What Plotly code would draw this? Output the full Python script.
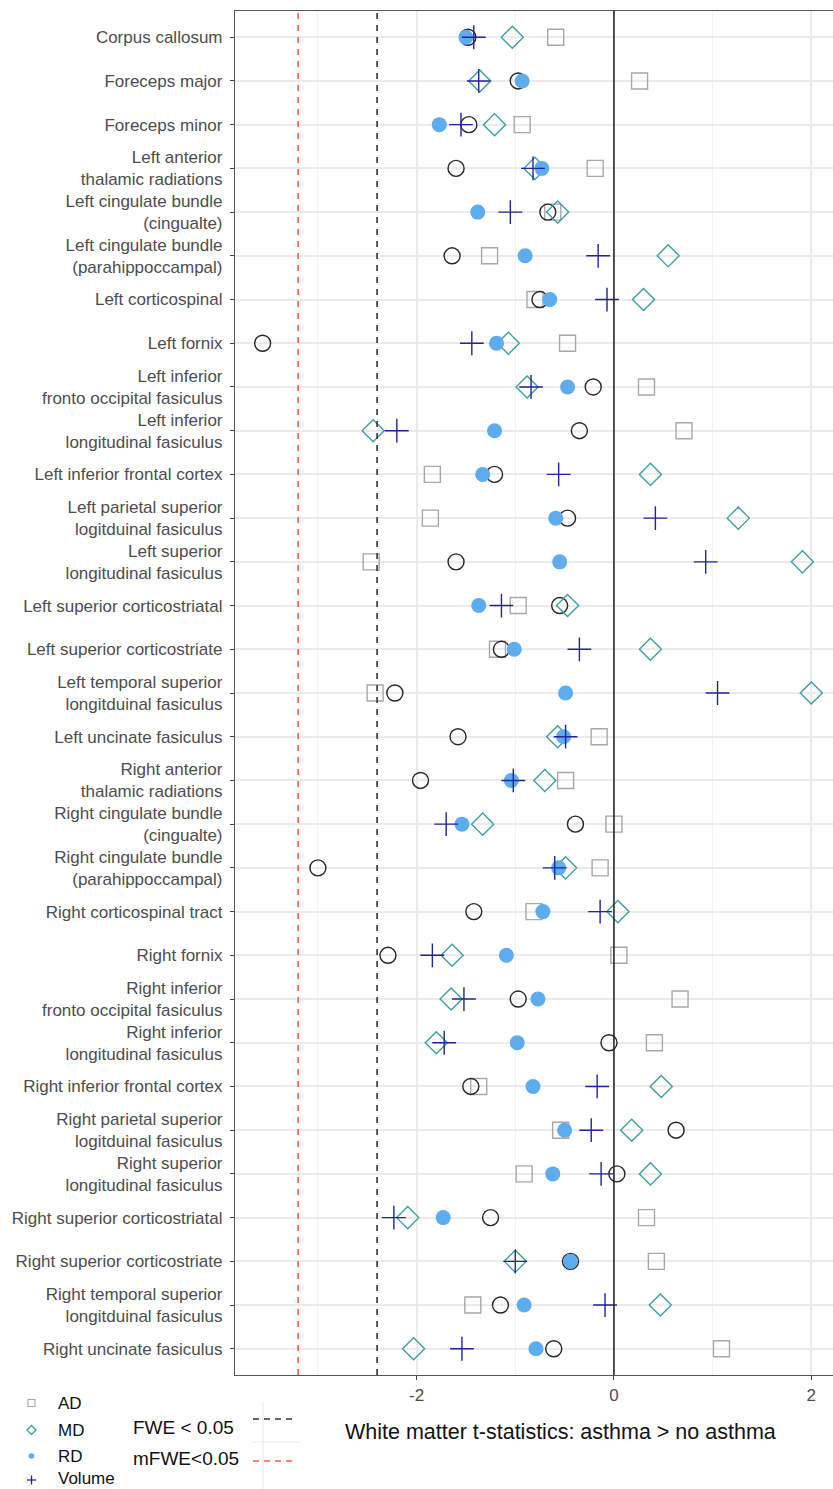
import plotly.graph_objects as go

# ---------------- data ----------------
tracts = [
    "Corpus callosum", "Foreceps major", "Foreceps minor",
    "Left anterior<br>thalamic radiations",
    "Left cingulate bundle<br>(cingualte)",
    "Left cingulate bundle<br>(parahippoccampal)",
    "Left corticospinal", "Left fornix",
    "Left inferior<br>fronto occipital fasiculus",
    "Left inferior<br>longitudinal fasiculus",
    "Left inferior frontal cortex",
    "Left parietal superior<br>logitduinal fasiculus",
    "Left superior<br>longitudinal fasiculus",
    "Left superior corticostriatal", "Left superior corticostriate",
    "Left temporal superior<br>longitduinal fasiculus",
    "Left uncinate fasiculus",
    "Right anterior<br>thalamic radiations",
    "Right cingulate bundle<br>(cingualte)",
    "Right cingulate bundle<br>(parahippoccampal)",
    "Right corticospinal tract", "Right fornix",
    "Right inferior<br>fronto occipital fasiculus",
    "Right inferior<br>longitudinal fasiculus",
    "Right inferior frontal cortex",
    "Right parietal superior<br>logitduinal fasiculus",
    "Right superior<br>longitudinal fasiculus",
    "Right superior corticostriatal", "Right superior corticostriate",
    "Right temporal superior<br>longitduinal fasiculus",
    "Right uncinate fasiculus",
]

ad = [-0.59, 0.26, -0.93, -0.19, -0.62, -1.26, -0.80, -0.47, 0.33, 0.71,
      -1.84, -1.86, -2.46, -0.97, -1.18, -2.42, -0.15, -0.49, 0.00, -0.14,
      -0.81, 0.05, 0.67, 0.41, -1.37, -0.54, -0.91, 0.33, 0.43, -1.43, 1.09]
md = [-1.03, -1.36, -1.21, -0.80, -0.57, 0.55, 0.30, -1.07, -0.88, -2.44,
      0.37, 1.26, 1.91, -0.47, 0.37, 2.00, -0.57, -0.70, -1.33, -0.49,
      0.04, -1.64, -1.65, -1.80, 0.48, 0.18, 0.37, -2.09, -1.00, 0.47, -2.03]
rd = [-1.50, -0.93, -1.77, -0.73, -1.38, -0.90, -0.65, -1.19, -0.47, -1.21,
      -1.33, -0.59, -0.55, -1.37, -1.01, -0.49, -0.51, -1.04, -1.54, -0.56,
      -0.72, -1.09, -0.77, -0.98, -0.82, -0.50, -0.62, -1.73, -0.44, -0.91, -0.79]
volume = [-1.42, -1.37, -1.55, -0.82, -1.05, -0.16, -0.07, -1.44, -0.84, -2.20,
          -0.56, 0.42, 0.93, -1.14, -0.35, 1.05, -0.49, -1.02, -1.70, -0.60,
          -0.14, -1.84, -1.52, -1.72, -0.17, -0.23, -0.13, -2.23, -1.00, -0.09, -1.54]
# black open circles (measure not named in the legend)
fa = [-1.48, -0.97, -1.47, -1.60, -0.67, -1.64, -0.75, -3.56, -0.21, -0.35,
      -1.21, -0.47, -1.60, -0.55, -1.14, -2.22, -1.58, -1.96, -0.39, -3.00,
      -1.42, -2.29, -0.97, -0.05, -1.45, 0.63, 0.03, -1.25, -0.44, -1.15, -0.61]

fwe_threshold = -2.4
mfwe_threshold = -3.2
x_ticks = [-2, 0, 2]

# ---------------- style ----------------
C_AD = "#a8a8a8"
C_MD = "#3f9f9f"
C_RD = "#5cacee"
C_VOL = "#23239c"
C_FA = "#262626"
FONT = "Liberation Sans, Arial, sans-serif"

W, H = 833, 1489
L, R, T, B = 235, 833, 11, 1375  # plot area in pixels


def px(x):
    return (x - L) / (R - L)


def py(y):
    return (B - y) / (B - T)


fig = go.Figure()

fig.add_trace(go.Scatter(
    x=ad, y=tracts, mode="markers", name="AD", showlegend=False,
    marker=dict(symbol="square-open", size=16, color=C_AD,
                line=dict(color=C_AD, width=1.4))))
fig.add_trace(go.Scatter(
    x=fa, y=tracts, mode="markers", name="FA", showlegend=False,
    marker=dict(symbol="circle-open", size=16, color=C_FA,
                line=dict(color=C_FA, width=1.4))))
fig.add_trace(go.Scatter(
    x=md, y=tracts, mode="markers", name="MD", showlegend=False,
    marker=dict(symbol="diamond-open", size=17, color=C_MD,
                line=dict(color=C_MD, width=1.4))))
fig.add_trace(go.Scatter(
    x=rd, y=tracts, mode="markers", name="RD", showlegend=False,
    marker=dict(symbol="circle", size=15, color=C_RD, line=dict(width=0))))
fig.add_trace(go.Scatter(
    x=volume, y=tracts, mode="markers", name="Volume", showlegend=False,
    marker=dict(symbol="cross-thin-open", size=17, color=C_VOL,
                line=dict(color=C_VOL, width=1.4))))

shapes = []
# reference lines
shapes.append(dict(type="line", xref="x", yref="paper", x0=0, x1=0, y0=0, y1=1,
                   line=dict(color="#2a2a2a", width=1.6)))
shapes.append(dict(type="line", xref="x", yref="paper", x0=fwe_threshold, x1=fwe_threshold,
                   y0=0, y1=1, line=dict(color="#333333", width=1.6, dash="6px,6px")))
shapes.append(dict(type="line", xref="x", yref="paper", x0=mfwe_threshold, x1=mfwe_threshold,
                   y0=0, y1=1, line=dict(color="#f8604c", width=1.6, dash="6px,6px")))

# legend key artefacts (faint)
shapes.append(dict(type="line", xref="paper", yref="paper", x0=px(263), x1=px(263),
                   y0=py(1402), y1=py(1489), line=dict(color="#ebebeb", width=1.2)))
shapes.append(dict(type="line", xref="paper", yref="paper", x0=px(253), x1=px(299),
                   y0=py(1442), y1=py(1442), line=dict(color="#ebebeb", width=1.2)))
# legend line samples
shapes.append(dict(type="line", xref="paper", yref="paper", x0=px(253), x1=px(296),
                   y0=py(1419), y1=py(1419),
                   line=dict(color="#333333", width=1.6, dash="6px,5px")))
shapes.append(dict(type="line", xref="paper", yref="paper", x0=px(253), x1=px(296),
                   y0=py(1461), y1=py(1461),
                   line=dict(color="#f8604c", width=1.6, dash="6px,5px")))

# legend symbols
cx = 31.5
shapes.append(dict(type="rect", xref="paper", yref="paper",
                   x0=px(cx - 3.5), x1=px(cx + 3.5), y0=py(1403 + 3.5), y1=py(1403 - 3.5),
                   line=dict(color=C_AD, width=1.1)))
yd = 1430
shapes.append(dict(type="path", xref="paper", yref="paper",
                   path=(f"M {px(cx - 4.5)} {py(yd)} L {px(cx)} {py(yd - 4.5)} "
                         f"L {px(cx + 4.5)} {py(yd)} L {px(cx)} {py(yd + 4.5)} Z"),
                   line=dict(color=C_MD, width=1.3)))
shapes.append(dict(type="circle", xref="paper", yref="paper",
                   x0=px(cx - 2.8), x1=px(cx + 2.8), y0=py(1456 + 2.8), y1=py(1456 - 2.8),
                   fillcolor=C_RD, line=dict(width=0)))
yv = 1480
shapes.append(dict(type="line", xref="paper", yref="paper", x0=px(cx - 4.5), x1=px(cx + 4.5),
                   y0=py(yv), y1=py(yv), line=dict(color=C_VOL, width=1.3)))
shapes.append(dict(type="line", xref="paper", yref="paper", x0=px(cx), x1=px(cx),
                   y0=py(yv - 4.5), y1=py(yv + 4.5), line=dict(color=C_VOL, width=1.3)))

annotations = []
for label, yy in [("AD", 1403), ("MD", 1430), ("RD", 1456), ("Volume", 1478)]:
    annotations.append(dict(text=label, xref="paper", yref="paper", x=px(56), y=py(yy),
                            xanchor="left", yanchor="middle", showarrow=False,
                            font=dict(family=FONT, size=17, color="#111111")))
for label, yy in [("FWE < 0.05", 1427), ("mFWE<0.05", 1458)]:
    annotations.append(dict(text=label, xref="paper", yref="paper", x=px(131), y=py(yy),
                            xanchor="left", yanchor="middle", showarrow=False,
                            font=dict(family=FONT, size=19, color="#111111")))
annotations.append(dict(text="White matter t-statistics: asthma > no asthma",
                        xref="paper", yref="paper", x=px(560), y=py(1432),
                        xanchor="center", yanchor="middle", showarrow=False,
                        font=dict(family=FONT, size=21.5, color="#111111")))

fig.update_layout(
    width=W, height=H,
    margin=dict(l=L, r=W - R, t=T, b=H - B, pad=0),
    paper_bgcolor="white", plot_bgcolor="white",
    showlegend=False,
    shapes=shapes, annotations=annotations,
    font=dict(family=FONT),
)
fig.update_xaxes(
    range=[-3.84, 2.22], tickvals=x_ticks, ticktext=[str(v) for v in x_ticks],
    showgrid=True, gridcolor="#ebebeb", gridwidth=1.6,
    minor=dict(dtick=1, tick0=0, showgrid=True, gridcolor="#f2f2f2", gridwidth=1, ticks=""),
    zeroline=False,
    showline=True, mirror=True, linecolor="#555555", linewidth=1.2,
    ticks="outside", ticklen=4, tickcolor="#444444", tickwidth=1.1,
    tickfont=dict(family=FONT, size=17, color="#4d4d4d"),
)
fig.update_yaxes(
    type="category", categoryorder="array", categoryarray=tracts,
    range=[30.6, -0.6],
    showgrid=True, gridcolor="#ebebeb", gridwidth=1.6,
    zeroline=False,
    showline=True, mirror=False, linecolor="#555555", linewidth=1.2,
    ticks="outside", ticklen=4, tickcolor="#444444", tickwidth=1.1,
    ticklabelstandoff=4,
    tickfont=dict(family=FONT, size=17, color="#4d4d4d"),
)

fig.write_html(
    "out.html",
    config={"displayModeBar": False},
    post_script="document.body.style.margin='0';document.body.style.overflow='hidden';",
)
